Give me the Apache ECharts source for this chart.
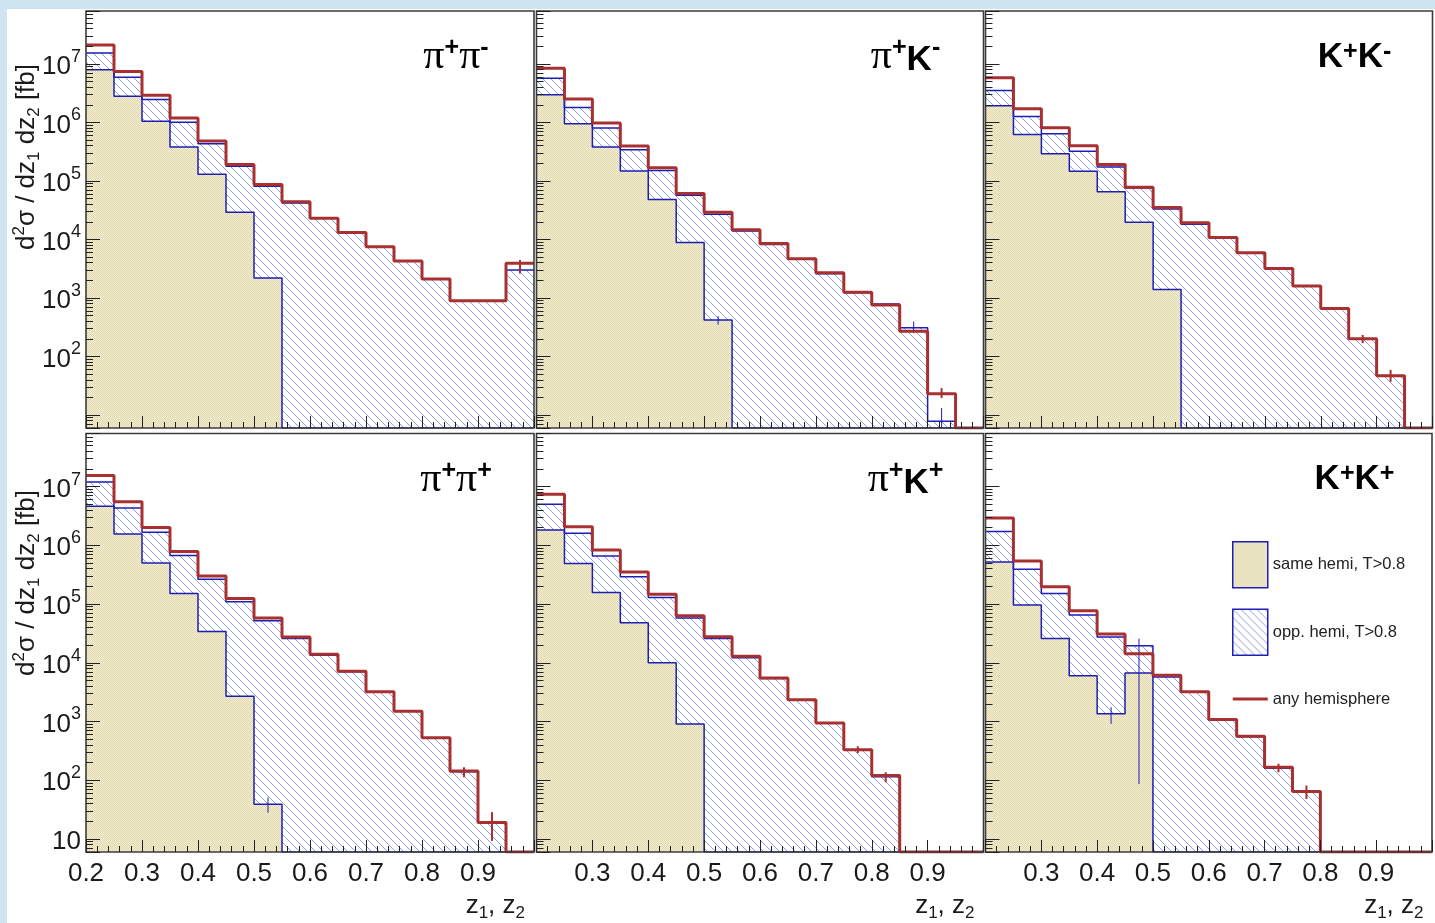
<!DOCTYPE html>
<html lang="en" style="height:100%">
<head>
    <meta charset="UTF-8">
    <title>z1, z2 by hemisphere</title>
    <script src="https://cdn.jsdelivr.net/npm/echarts@6.0.0/dist/echarts.min.js"></script>
</head>
<body style="height:100%;margin:0">
<div id="main" style="width:1435px;height:923px;"></div>
<script type="text/javascript">
    // bin edges in z1, z2 (16 bins of 0.05)
    var binEdges = [0.2, 0.25, 0.3, 0.35, 0.4, 0.45, 0.5, 0.55, 0.6, 0.65, 0.7, 0.75, 0.8, 0.85, 0.9, 0.95, 1.0];

    // pi+ pi-
    var pipmAny  = [2.1e7, 7.4e6, 2.9e6, 1.19e6, 4.8e5, 1.9e5, 8.7e4, 4.4e4, 2.3e4, 1.32e4, 7.5e3, 4.3e3, 2.1e3, 9.0e2, 9.0e2, 3.9e3];
    var pipmOpp  = [1.54e7, 5.9e6, 2.47e6, 1.01e6, 4.3e5, 1.78e5, 8.1e4, 4.2e4, 2.3e4, 1.32e4, 7.5e3, 4.3e3, 2.1e3, 9.0e2, 8.8e2, 3.0e3];
    var pipmSame = [7.9e6, 2.8e6, 1.05e6, 3.8e5, 1.3e5, 2.9e4, 2.2e3, 0, 0, 0, 0, 0, 0, 0, 0, 0];
    // pi+ K-
    var pikmAny  = [8.4e6, 2.5e6, 9.8e5, 3.95e5, 1.67e5, 6.1e4, 2.9e4, 1.46e4, 8.5e3, 4.7e3, 2.7e3, 1.25e3, 7.6e2, 2.7e2, 23, 0];
    var pikmOpp  = [5.7e6, 1.8e6, 8.0e5, 3.4e5, 1.5e5, 5.7e4, 2.7e4, 1.4e4, 8.2e3, 4.6e3, 2.6e3, 1.23e3, 7.9e2, 3.1e2, 7.8, 0];
    var pikmSame = [2.97e6, 9.5e5, 3.8e5, 1.48e5, 4.8e4, 8.9e3, 4.2e2, 0, 0, 0, 0, 0, 0, 0, 0, 0];
    // K+ K-
    var kkmAny  = [5.8e6, 1.71e6, 8.1e5, 4.0e5, 1.9e5, 7.8e4, 3.5e4, 1.92e4, 1.08e4, 5.9e3, 3.2e3, 1.6e3, 6.6e2, 2.0e2, 47, 0];
    var kkmOpp  = [3.5e6, 1.26e6, 6.4e5, 3.2e5, 1.73e5, 7.6e4, 3.3e4, 1.82e4, 1.08e4, 5.9e3, 3.2e3, 1.6e3, 6.6e2, 2.0e2, 47, 0];
    var kkmSame = [1.92e6, 6.2e5, 2.9e5, 1.46e5, 6.5e4, 1.97e4, 1.4e3, 0, 0, 0, 0, 0, 0, 0, 0, 0];
    // pi+ pi+
    var pippAny  = [1.54e7, 5.5e6, 2.0e6, 7.8e5, 3.0e5, 1.24e5, 5.8e4, 2.75e4, 1.39e4, 7.2e3, 3.2e3, 1.5e3, 5.3e2, 1.43e2, 19, 0];
    var pippOpp  = [1.19e7, 4.3e6, 1.66e6, 6.7e5, 2.65e5, 1.09e5, 5.2e4, 2.6e4, 1.34e4, 7.0e3, 3.2e3, 1.5e3, 5.3e2, 1.4e2, 19, 0];
    var pippSame = [4.6e6, 1.56e6, 5.0e5, 1.51e5, 3.4e4, 2.7e3, 39, 0, 0, 0, 0, 0, 0, 0, 0, 0];
    // pi+ K+
    var pikpAny  = [7.4e6, 2.07e6, 8.3e5, 3.5e5, 1.46e5, 6.3e4, 2.76e4, 1.29e4, 5.5e3, 2.35e3, 9.4e2, 3.3e2, 1.2e2, 0, 0, 0];
    var pikpOpp  = [5.0e6, 1.6e6, 6.6e5, 2.9e5, 1.29e5, 5.8e4, 2.6e4, 1.22e4, 5.4e3, 2.3e3, 9.4e2, 3.3e2, 1.15e2, 0, 0, 0];
    var pikpSame = [1.82e6, 4.9e5, 1.57e5, 4.8e4, 1.0e4, 9.1e2, 0, 0, 0, 0, 0, 0, 0, 0, 0, 0];
    // K+ K+
    var kkpAny  = [2.9e6, 5.4e5, 1.97e5, 7.7e4, 3.1e4, 1.43e4, 6.1e3, 3.2e3, 1.08e3, 5.6e2, 1.67e2, 64, 0, 0, 0, 0];
    var kkpOpp  = [1.71e6, 3.9e5, 1.51e5, 6.5e4, 2.75e4, 1.94e4, 5.7e3, 3.2e3, 1.08e3, 5.5e2, 1.6e2, 64, 0, 0, 0, 0];
    var kkpSame = [5.2e5, 9.6e4, 2.6e4, 6.0e3, 1.36e3, 6.7e3, 0, 0, 0, 0, 0, 0, 0, 0, 0, 0];

    // error bars [z, low, high]
    var errRed = [
        [[0.975, 2.63e3, 4.45e3]],
        [[0.925, 19.5, 28.8]],
        [[0.875, 169, 234], [0.925, 37, 59]],
        [[0.875, 112, 166], [0.925, 9.3, 28.4]],
        [[0.775, 290, 380], [0.825, 92, 137]],
        [[0.725, 137, 190], [0.775, 48, 81]]
    ];
    var errBlue = [
        [],
        [[0.525, 350, 490], [0.875, 250, 395], [0.925, 6, 13.2]],
        [],
        [[0.525, 28, 51], [0.925, 9.3, 28.4]],
        [],
        [[0.425, 910, 1760], [0.475, 86, 2.58e4]]
    ];

    var panelLabels = [['π', '+', 'π', '-'], ['π', '+', 'K', '-'], ['K', '+', 'K', '-'],
                       ['π', '+', 'π', '+'], ['π', '+', 'K', '+'], ['K', '+', 'K', '+']];
    var xLabelsFirst = ['0.2', '0.3', '0.4', '0.5', '0.6', '0.7', '0.8', '0.9'];
    var xLabelsOther = ['0.3', '0.4', '0.5', '0.6', '0.7', '0.8', '0.9'];
    var yExpTop = ['2', '3', '4', '5', '6', '7'];
    var yExpBottom = ['1', '2', '3', '4', '5', '6', '7'];
    var legendNames = ['same hemi, T>0.8', 'opp. hemi, T>0.8', 'any hemisphere'];

    var anyAll = [pipmAny, pikmAny, kkmAny, pippAny, pikpAny, kkpAny];
    var oppAll = [pipmOpp, pikmOpp, kkmOpp, pippOpp, pikpOpp, kkpOpp];
    var sameAll = [pipmSame, pikmSame, kkmSame, pippSame, pikpSame, kkpSame];

    var FONT = 'Liberation Sans';
    var INK = '#1a1a1a';
    var BLUE = '#1e1eb4';
    var RED = '#a83030';
    var yMin = 6, yMax = 8e7;

    var cols = [{left: 86, width: 448}, {left: 536.5, width: 447}, {left: 985.5, width: 447}];
    var rows = [{top: 11, height: 417}, {top: 433.5, height: 418.5}];

    function hatchFill() {
        var c = document.createElement('canvas');
        c.width = 8; c.height = 8;
        var g = c.getContext('2d');
        g.strokeStyle = '#8aa0e0';
        g.lineWidth = 1;
        g.beginPath();
        g.moveTo(-1, -1); g.lineTo(9, 9);
        g.moveTo(-1, 7); g.lineTo(1, 9);
        g.moveTo(7, -1); g.lineTo(9, 1);
        g.stroke();
        return {image: c, repeat: 'repeat'};
    }
    function beigeFill() {
        var c = document.createElement('canvas');
        c.width = 2; c.height = 2;
        var g = c.getContext('2d');
        g.fillStyle = '#f1eed5'; g.fillRect(0, 0, 2, 2);
        g.fillStyle = '#e2d9ab'; g.fillRect(0, 0, 1, 1); g.fillRect(1, 1, 1, 1);
        return {image: c, repeat: 'repeat'};
    }
    var HATCH = hatchFill();
    var BEIGE = beigeFill();

    // histogram bins -> step line points (empty bins sit on the frame)
    function stepData(vals) {
        var d = vals.map(function (v, i) { return [binEdges[i], v > 0 ? v : yMin]; });
        d.push([binEdges[binEdges.length - 1], d[d.length - 1][1]]);
        return d;
    }
    function errSeries(p, data, color, width) {
        return {
            type: 'custom', xAxisIndex: p, yAxisIndex: p, data: data, clip: true, z: 3,
            encode: {x: 0, y: [1, 2]},
            renderItem: function (params, api) {
                var a = api.coord([api.value(0), api.value(1)]);
                var b = api.coord([api.value(0), api.value(2)]);
                return {type: 'line', shape: {x1: a[0], y1: a[1], x2: b[0], y2: b[1]},
                        style: {stroke: color, lineWidth: width}};
            }
        };
    }
    function labelRich(parts) {
        var s = '';
        for (var i = 0; i < parts.length; i += 2) {
            s += (parts[i] === 'π' ? '{pi|π}' : '{k|K}') + '{sup|' + parts[i + 1] + '}';
        }
        return s;
    }

    var option = {
        backgroundColor: '#cfe4f1',
        animation: false,
        grid: [], xAxis: [], yAxis: [], series: [],
        legend: {
            left: 1227, top: 536, orient: 'vertical',
            itemWidth: 35, itemHeight: 46, itemGap: 20, selectedMode: false,
            textStyle: {fontSize: 16.5, fontFamily: FONT, color: '#222'},
            data: [
                {name: legendNames[0], icon: 'rect', itemStyle: {color: BEIGE, borderColor: BLUE, borderWidth: 1.5}},
                {name: legendNames[1], icon: 'rect', itemStyle: {color: HATCH, borderColor: BLUE, borderWidth: 1.5}},
                {name: legendNames[2], icon: 'path://M0,0L0,0M0,21.5H35V24.5H0ZM0,46L0,46', itemStyle: {color: RED, borderWidth: 0}}
            ]
        },
        graphic: [
            {type: 'rect', z: -100, shape: {x: 7, y: 9, width: 1428, height: 914}, style: {fill: '#fff'}}
        ]
    };

    for (var p = 0; p < 6; p++) {
        var r = Math.floor(p / 3), c = p % 3;
        var xLabels = c === 0 ? xLabelsFirst : xLabelsOther;
        var yExps = r === 0 ? yExpTop : yExpBottom;
        option.grid.push({
            left: cols[c].left, top: rows[r].top, width: cols[c].width, height: rows[r].height,
            show: true, z: 10, backgroundColor: 'transparent', borderColor: '#3c3c3c', borderWidth: 1.6
        });
        option.xAxis.push({
            type: 'value', gridIndex: p, min: 0.2, max: 1.0, interval: 0.1, z: 10,
            axisLine: {show: false},
            axisTick: {show: true, inside: true, length: 12, lineStyle: {color: '#222'}},
            minorTick: {show: true, splitNumber: 5, length: 6, lineStyle: {color: '#222'}},
            splitLine: {show: false},
            axisLabel: {
                show: r === 1, margin: 9, fontSize: 26, fontFamily: FONT, color: INK,
                formatter: (function (labels) {
                    return function (v) { var s = v.toFixed(1); return labels.indexOf(s) >= 0 ? s : ''; };
                })(xLabels)
            }
        });
        option.yAxis.push({
            type: 'log', logBase: 10, gridIndex: p, min: yMin, max: yMax, z: 10,
            axisLine: {show: false},
            axisTick: {show: true, inside: true, length: 14, lineStyle: {color: '#222'}},
            minorTick: {show: true, splitNumber: 9, length: 7, lineStyle: {color: '#222'}},
            splitLine: {show: false},
            axisLabel: {
                show: c === 0, margin: 5, showMinLabel: false, showMaxLabel: false,
                fontSize: 26, fontFamily: FONT, color: INK,
                formatter: (function (exps) {
                    return function (v) {
                        var e = String(Math.round(Math.log10(v)));
                        if (exps.indexOf(e) < 0) return '';
                        return e === '1' ? '{b|10}' : '{b|10}{e|' + e + '}';
                    };
                })(yExps),
                rich: {
                    b: {fontSize: 26, fontFamily: FONT, color: INK, lineHeight: 32, verticalAlign: 'bottom'},
                    e: {fontSize: 18, fontFamily: FONT, color: INK, lineHeight: 18, verticalAlign: 'top'}
                }
            }
        });
        option.series.push({
            name: legendNames[1], type: 'line', step: 'end', xAxisIndex: p, yAxisIndex: p,
            data: stepData(oppAll[p]), symbol: 'none', z: 2,
            lineStyle: {color: BLUE, width: 1.5}, itemStyle: {color: BLUE},
            areaStyle: {color: HATCH, opacity: 1}
        });
        option.series.push({
            name: legendNames[0], type: 'line', step: 'end', xAxisIndex: p, yAxisIndex: p,
            data: stepData(sameAll[p]), symbol: 'none', z: 2,
            lineStyle: {color: BLUE, width: 1.5}, itemStyle: {color: BLUE},
            areaStyle: {color: BEIGE, opacity: 1}
        });
        option.series.push(errSeries(p, errBlue[p], BLUE, 1));
        option.series.push({
            name: legendNames[2], type: 'line', step: 'end', xAxisIndex: p, yAxisIndex: p,
            data: stepData(anyAll[p]), symbol: 'none', z: 4,
            lineStyle: {color: RED, width: 3}, itemStyle: {color: RED}
        });
        option.series.push(errSeries(p, errRed[p], RED, 2));

        var right = cols[c].left + cols[c].width;
        option.graphic.push({
            type: 'text', x: right - 78, y: rows[r].top + 46, z: 20,
            style: {
                text: labelRich(panelLabels[p]), align: 'center', verticalAlign: 'middle', fill: '#000',
                rich: {
                    pi: {fontFamily: 'Liberation Serif', fontSize: 42, lineHeight: 42, verticalAlign: 'bottom', fill: '#000'},
                    k: {fontFamily: FONT, fontWeight: 'bold', fontSize: 35, lineHeight: 35, verticalAlign: 'bottom', fill: '#000'},
                    sup: {fontFamily: FONT, fontWeight: 'bold', fontSize: 25, lineHeight: 25, verticalAlign: 'top', fill: '#000'}
                }
            }
        });
        if (r === 1) {
            option.graphic.push({
                type: 'text', x: right - 9, y: 906, z: 20,
                style: {
                    text: 'z{sub|1}, z{sub|2}', align: 'right', verticalAlign: 'middle',
                    fontFamily: FONT, fontSize: 26, lineHeight: 32, fill: INK,
                    rich: {sub: {fontFamily: FONT, fontSize: 17, lineHeight: 17, verticalAlign: 'bottom', fill: INK}}
                }
            });
        }
        if (c === 0) {
            option.graphic.push({
                type: 'text', x: 27, y: r === 0 ? 157 : 583, rotation: Math.PI / 2, z: 20,
                style: {
                    text: 'd{sup|2}σ / dz{sub|1} dz{sub|2} [fb]', align: 'center', verticalAlign: 'middle',
                    fontFamily: FONT, fontSize: 26, lineHeight: 32, fill: INK,
                    rich: {
                        sup: {fontFamily: FONT, fontSize: 17, lineHeight: 17, verticalAlign: 'top', fill: INK},
                        sub: {fontFamily: FONT, fontSize: 17, lineHeight: 17, verticalAlign: 'bottom', fill: INK}
                    }
                }
            });
        }
    }

    var myChart = echarts.init(document.getElementById('main'));
    myChart.setOption(option);
</script>
</body>
</html>
